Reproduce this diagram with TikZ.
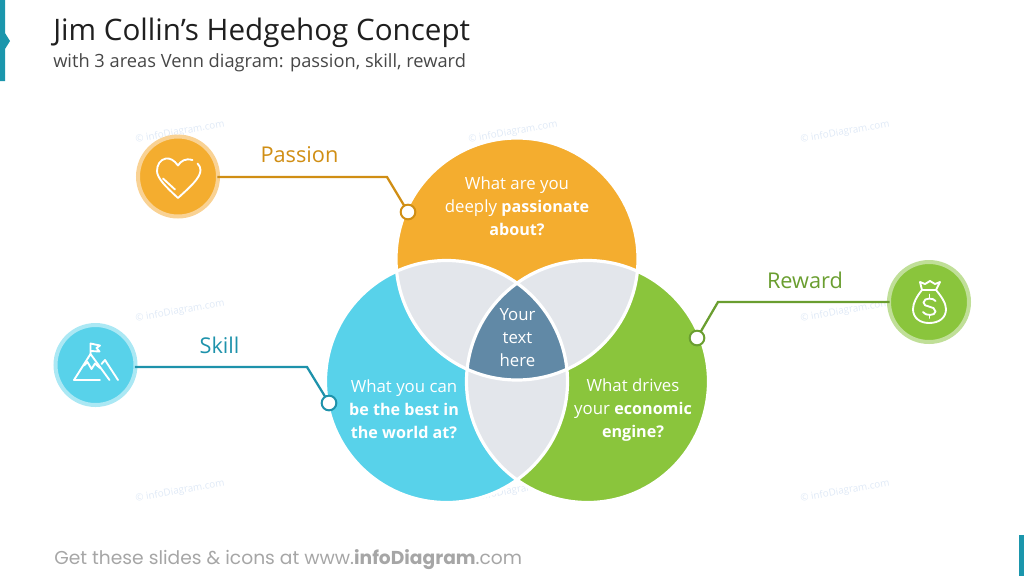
\documentclass[tikz,border=0pt]{standalone}
\usepackage{fontspec}
\setmainfont{Open Sans}
\newfontfamily\footfont{Poppins}
\usetikzlibrary{positioning}
\definecolor{passionfill}{HTML}{F4AD2F}
\definecolor{passionring}{HTML}{F9D294}
\definecolor{passionline}{HTML}{D08E14}
\definecolor{skillfill}{HTML}{58D2EA}
\definecolor{skillring}{HTML}{ABE8F4}
\definecolor{skillline}{HTML}{1E92AB}
\definecolor{rewardfill}{HTML}{8AC53C}
\definecolor{rewardring}{HTML}{C0DF98}
\definecolor{rewardline}{HTML}{6A9E30}
\definecolor{lensfill}{HTML}{E3E6EB}
\definecolor{corefill}{HTML}{6189A6}
\definecolor{markfill}{HTML}{DFE9F6}
\definecolor{barfill}{HTML}{1B96AC}
\newcommand{\passionpath}{(517,259) circle (90.75pt)}
\newcommand{\skillpath}{(446.5,381.5) circle (90.75pt)}
\newcommand{\rewardpath}{(587.5,381.5) circle (90.75pt)}
\newcommand{\vennbold}[1]{{\fontsize{12.1}{17.2}\selectfont\bfseries #1}}
\tikzset{
  venntext/.style={text=white,align=center,font=\fontsize{12.6}{17.2}\selectfont},
  labeltext/.style={font=\fontsize{16.3}{18}\selectfont},
  iconnode/.style={circle,minimum size=60pt,line width=3pt,inner sep=0pt},
  dotnode/.style={circle,fill=white,minimum size=11pt,line width=1.5pt,inner sep=0pt},
  linkline/.style={line width=1.7pt,shorten <=-2pt},
  iconline/.style={white,line width=1.4pt,line cap=round,line join=round},
  marktext/.style={text=markfill,rotate=10,font=\fontsize{7.4}{9}\selectfont}
}
\begin{document}
\begin{tikzpicture}[x=0.75pt,y=-0.75pt]
  \useasboundingbox (0,0) rectangle (1024,576);
  \fill[barfill] (0,0) -- (5,0) -- (5,33) -- (10,41) -- (5,49) -- (5,81) -- (0,81) -- cycle;
  \fill[barfill] (1019,535) rectangle (1024,576);

  \node[anchor=base west,inner sep=0pt,text=black!88,font=\fontsize{22.2}{24}\selectfont] (title) at (53,40) {Jim Collin’s Hedgehog Concept};
  \node[anchor=base west,inner sep=0pt,text=black!72,font=\fontsize{13.7}{16}\selectfont] (subtitle) at (53,67) {with 3 areas Venn diagram: passion, skill, reward};
  \node[anchor=base west,inner sep=0pt,text=black!35,font=\footfont\fontsize{14}{16}\selectfont] (foot) at (54,564) {Get these slides \& icons at www.\textbf{infoDiagram}.com};

  \node[marktext] (mark1) at (180,132) {© infoDiagram.com};
  \node[marktext] (mark2) at (513,132) {© infoDiagram.com};
  \node[marktext] (mark3) at (845,132) {© infoDiagram.com};
  \node[marktext] (mark4) at (180,311) {© infoDiagram.com};
  \node[marktext] (mark5) at (845,311) {© infoDiagram.com};
  \node[marktext] (mark6) at (180,491) {© infoDiagram.com};
  \node[marktext] (mark7) at (513,491) {© infoDiagram.com};
  \node[marktext] (mark8) at (845,491) {© infoDiagram.com};

  \fill[passionfill] \passionpath;
  \fill[skillfill] \skillpath;
  \fill[rewardfill] \rewardpath;
  \begin{scope}
    \clip \passionpath;
    \fill[lensfill] \skillpath;
    \fill[lensfill] \rewardpath;
  \end{scope}
  \begin{scope}
    \clip \skillpath;
    \fill[lensfill] \rewardpath;
  \end{scope}
  \begin{scope}
    \clip \passionpath;
    \clip \skillpath;
    \fill[corefill] \rewardpath;
  \end{scope}
  \begin{scope}[white,line width=2.4pt]
    \draw \passionpath;
    \draw \skillpath;
    \draw \rewardpath;
  \end{scope}

  \node[venntext] (passiontext) at (517,206) {What are you\\deeply \vennbold{passionate}\\\vennbold{about?}};
  \node[venntext] (skilltext) at (404,409) {What you can\\\vennbold{be the best in}\\\vennbold{the world at?}};
  \node[venntext] (rewardtext) at (633,410) {What drives\\your \vennbold{economic}\\\vennbold{engine?}};
  \node[venntext] (coretext) at (517.5,338) {Your\\text\\here};

  \node[iconnode,fill=passionfill,draw=passionring] (passionicon) at (178,176.5) {};
  \node[iconnode,fill=skillfill,draw=skillring] (skillicon) at (95.5,365) {};
  \node[iconnode,fill=rewardfill,draw=rewardring] (rewardicon) at (929,302) {};

  \coordinate (passionbend) at (387,177);
  \coordinate (skillbend) at (307,367);
  \coordinate (rewardbend) at (718,302);

  \draw[linkline,passionline] (passionicon.east |- passionbend) -- (passionbend) -- (408,212) coordinate (passionend);
  \draw[linkline,skillline] (skillicon.east |- skillbend) -- (skillbend) -- (329,403) coordinate (skillend);
  \draw[linkline,rewardline] (rewardicon.west |- rewardbend) -- (rewardbend) -- (697,338) coordinate (rewardend);
  \node[dotnode,draw=passionline] (passiondot) at (passionend) {};
  \node[dotnode,draw=skillline] (skilldot) at (skillend) {};
  \node[dotnode,draw=rewardline] (rewarddot) at (rewardend) {};

  \node[labeltext,text=passionline] (passionlabel) at (299.5,155) {Passion};
  \node[labeltext,text=skillline] (skilllabel) at (219.5,345) {Skill};
  \node[labeltext,text=rewardline] (rewardlabel) at (805,280.5) {Reward};

  % heart
  \draw[iconline] (178,165.5) .. controls (174,160) and (170,158) .. (166,158.5) .. controls (160,159.5) and (157,165) .. (157,171) .. controls (157,178) and (166,187) .. (178,198) .. controls (190,187) and (200.5,178) .. (200.5,170) .. controls (200.5,167.5) and (199.5,165.5) .. (197.5,163.5);
  \draw[iconline] (178,165.5) .. controls (181,161) and (185,158) .. (192.5,160);
  \draw[iconline] (163,178.5) -- (175,189.5);

  % mountain
  \draw[iconline] (74,380) -- (100,380);
  \draw[iconline] (74,380) -- (90.5,354) -- (109.5,380);
  \draw[iconline] (101.5,364) -- (105,360) -- (118,380);
  \draw[iconline] (84,365.5) -- (87.5,362) -- (91.5,369) -- (95,363.5) -- (100,368);
  \draw[iconline] (90.5,354) -- (90.5,343.5) -- (100,345.5) -- (96.5,348) -- (99.5,351.5) -- (90.5,351);

  % money bag
  \draw[iconline] (922,290) .. controls (917,296) and (913,303) .. (913,309) .. controls (913,318) and (920,323) .. (929,323) .. controls (939,323) and (946,318) .. (946,309) .. controls (946,303) and (941,296) .. (936,290) -- cycle;
  \draw[iconline] (922,290) -- (920,282) -- (925,284) -- (930,281) -- (935,284) -- (940,282) -- (936,290);
  \draw[iconline] (935.5,301) .. controls (934,298) and (924,297) .. (923.5,302.5) .. controls (923,308) and (935.5,305) .. (935.5,311.5) .. controls (935.5,316) and (925,316) .. (923,312);
  \draw[iconline] (929.5,294.5) -- (929.5,298);
  \draw[iconline] (929.5,315) -- (929.5,318);
\end{tikzpicture}
\end{document}
